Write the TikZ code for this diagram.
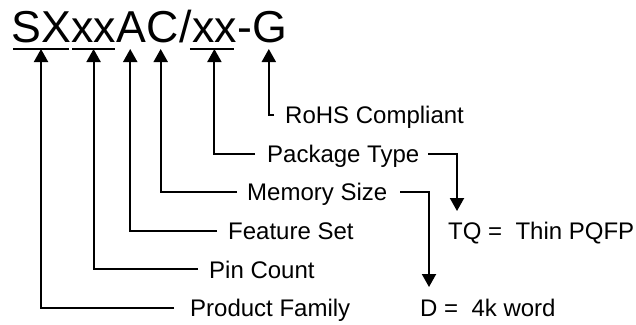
\documentclass[tikz,border=0pt]{standalone}
\usepackage{fontspec}
\setmainfont{Liberation Sans}
\usetikzlibrary{arrows.meta}
\begin{document}
\begin{tikzpicture}[x=1pt,y=-1pt,
  lbl/.style={anchor=base west,inner sep=0pt,font=\fontsize{24}{28}\selectfont},
  ttl/.style={anchor=base west,inner sep=0pt,font=\fontsize{44.7}{50}\selectfont},
  conn/.style={line width=2pt},
  arr/.style={conn,-{Triangle[length=13pt,width=14pt]}},
  uline/.style={line width=2pt}]
\useasboundingbox (0,0) rectangle (636,324);
% title
\node[ttl] (t1) at (11,42) {SX};
\node[ttl] (t2) at (t1.base east) {xx};
\node[ttl] (t3) at (t2.base east) {A};
\node[ttl] (t4) at (t3.base east) {C};
\node[ttl] (t5) at (t4.base east) {/};
\node[ttl] (t6) at (t5.base east) {xx};
\node[ttl] (t7) at (t6.base east) {-};
\node[ttl] (t8) at (t7.base east) {G};
\coordinate (ul) at (0,49);
\coordinate (tip) at (0,49);
\draw[uline] ([xshift=2pt]t1.west |- ul) -- ([xshift=-2pt]t1.east |- ul);
\draw[uline] ([xshift=1pt]t2.west |- ul) -- ([xshift=-1pt]t2.east |- ul);
\draw[uline] ([xshift=-2pt]t6.west |- ul) -- ([xshift=-3pt]t6.east |- ul);
% labels (baseline = row + 8.6)
\node[lbl] (rohs) at (285,123.6) {RoHS Compliant};
\node[lbl] (pkg) at (267,162.2) {Package Type};
\node[lbl] (mem) at (247,200.8) {Memory Size};
\node[lbl] (feat) at (228,239.4) {Feature Set};
\node[lbl] (pin) at (209,278.0) {Pin Count};
\node[lbl] (prod) at (190,316.6) {Product Family};
\node[lbl] (tq) at (448,239.4) {TQ =\ \ Thin PQFP};
\node[lbl] (dw) at (420,316.6) {D =\ \ 4k word};
% elbow coordinates
\coordinate (r1) at (274,115);
\coordinate (r2) at (255,153.6);
\coordinate (r3) at (237,192.2);
\coordinate (r4) at (217,230.8);
\coordinate (r5) at (198,269.4);
\coordinate (r6) at (174,308);
% connectors to title
\draw[arr] (r1) -| ([xshift=-1pt]t8.center |- tip);
\draw[arr] (r2) -| (t6.center |- tip);
\draw[arr] (r3) -| ([xshift=-2pt]t4.center |- tip);
\draw[arr] (r4) -| ([xshift=-1pt]t3.center |- tip);
\draw[arr] (r5) -| (t2.center |- tip);
\draw[arr] (r6) -| (t1.center |- tip);
% right side connectors
\coordinate (p1) at (428,153.6);
\coordinate (p2) at (457,211);
\coordinate (m1) at (400,192.2);
\coordinate (m2) at (429,287);
\draw[arr] (p1) -| (p2);
\draw[arr] (m1) -| (m2);
\end{tikzpicture}
\end{document}
